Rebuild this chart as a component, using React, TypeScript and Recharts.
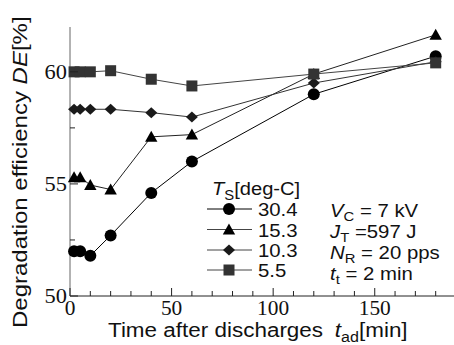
import React from "react";
import { LineChart, Line, XAxis, YAxis } from "recharts";

// time after discharges t_ad [min]
const T_AD = [2, 5, 10, 20, 40, 60, 120, 180];

// degradation efficiency DE [%] for each surface temperature T_S [deg-C]
const DE_30_4 = [52.0, 52.0, 51.8, 52.7, 54.6, 56.0, 59.0, 60.7];
const DE_15_3 = [55.3, 55.3, 54.95, 54.75, 57.1, 57.2, 59.9, 61.65];
const DE_10_3 = [58.33, 58.33, 58.33, 58.33, 58.18, 57.98, 59.5, 60.45];
const DE_5_5 = [60.0, 60.0, 60.0, 60.05, 59.67, 59.37, 59.9, 60.4];

const SERIES_LABELS = ["30.4", "15.3", "10.3", "5.5"];
const X_TICKS = [0, 10, 20, 30, 40, 50, 60, 70, 80, 90, 100, 110, 120, 130, 140, 150, 160, 170, 180];
const Y_TICKS = [50, 52.5, 55, 57.5, 60];

const W = 454;
const H = 345;
const INK = "#111";
const AXIS = "#222";
const SANS = "Liberation Sans, Arial, sans-serif";
const SERIF = "Liberation Serif, Times New Roman, Times, DejaVu Serif";

const data = T_AD.map((t, i) => ({
  t,
  s304: DE_30_4[i],
  s153: DE_15_3[i],
  s103: DE_10_3[i],
  s55: DE_5_5[i],
}));

type ShapeKind = "circle" | "triangle" | "diamond" | "square";

function Marker({ kind, cx, cy }: { kind: ShapeKind; cx: number; cy: number }) {
  if (kind === "circle") return <circle cx={cx} cy={cy} r={6} fill="#000" />;
  if (kind === "triangle")
    return <polygon points={`${cx},${cy - 6} ${cx + 6.2},${cy + 5} ${cx - 6.2},${cy + 5}`} fill="#000" />;
  if (kind === "diamond")
    return <polygon points={`${cx},${cy - 5.5} ${cx + 6},${cy} ${cx},${cy + 5.5} ${cx - 6},${cy}`} fill="#1a1a1a" />;
  return <rect x={cx - 5.5} y={cy - 5.5} width={11} height={11} fill="#333" />;
}

const dotFor = (kind: ShapeKind) => (p: any) =>
  <Marker key={`${kind}-${p.index}`} kind={kind} cx={p.cx} cy={p.cy} />;

const BottomTick = (p: any) => {
  const v = p.payload.value;
  const major = v % 50 === 0;
  return (
    <g>
      <line x1={p.x} x2={p.x} y1={p.y} y2={p.y - (major ? 8 : 5)} stroke={AXIS} />
      {major && (
        <text
          transform={`translate(${p.x},${p.y + 19}) scale(1.07,1)`}
          textAnchor="middle"
          fontFamily={SERIF}
          fontSize={20}
          fill={INK}
        >
          {v}
        </text>
      )}
    </g>
  );
};

const TopTick = (p: any) => {
  const major = p.payload.value % 50 === 0;
  return <line x1={p.x} x2={p.x} y1={p.y} y2={p.y + (major ? 8 : 5)} stroke={AXIS} />;
};

const LeftTick = (p: any) => {
  const v = p.payload.value;
  const major = v % 5 === 0;
  return (
    <g>
      <line x1={p.x} x2={p.x + (major ? 8 : 5)} y1={p.y} y2={p.y} stroke={AXIS} />
      {major && (
        <text
          transform={`translate(${p.x - 3},${p.y + 7}) scale(1.12,1)`}
          textAnchor="end"
          fontFamily={SERIF}
          fontSize={20}
          fill={INK}
        >
          {v}
        </text>
      )}
    </g>
  );
};

const RightTick = (p: any) => {
  const major = p.payload.value % 5 === 0;
  return <line x1={p.x} x2={p.x - (major ? 8 : 5)} y1={p.y} y2={p.y} stroke={AXIS} />;
};

const KINDS: ShapeKind[] = ["circle", "triangle", "diamond", "square"];

function Overlay() {
  const rowY = [209, 229.5, 250, 270];
  const notes = [
    { main: "V", sub: "C", rest: " = 7 kV" },
    { main: "J", sub: "T", rest: " =597 J" },
    { main: "N", sub: "R", rest: " = 20 pps" },
    { main: "t", sub: "t", rest: " = 2 min" },
  ];
  return (
    <svg width={W} height={H} style={{ position: "absolute", left: 0, top: 0 }}>
      {/* y axis title */}
      <text
        transform="translate(27,328) rotate(-90) scale(1.2,1)"
        fontFamily={SANS}
        fontSize={20}
        fill={INK}
      >
        Degradation efficiency <tspan fontStyle="italic">DE</tspan>[%]
      </text>
      {/* x axis title */}
      <text transform="translate(108,337) scale(1.07,1)" fontFamily={SANS} fontSize={21} fill={INK}>
        Time after discharges
        <tspan fontStyle="italic" dx={11}>t</tspan>
        <tspan fontSize={15} dy={5}>ad</tspan>
        <tspan dy={-5}>[min]</tspan>
      </text>
      {/* legend */}
      <text transform="translate(212,195) scale(1.06,1)" fontFamily={SANS} fontSize={19} fill={INK}>
        <tspan fontStyle="italic">T</tspan>
        <tspan fontSize={14} dy={5}>S</tspan>
        <tspan dy={-5}>[deg-C]</tspan>
      </text>
      {SERIES_LABELS.map((label, i) => (
        <g key={label}>
          <line x1={207} x2={252} y1={rowY[i]} y2={rowY[i]} stroke={i === 0 ? "#000" : "#444"} />
          <Marker kind={KINDS[i]} cx={229} cy={rowY[i]} />
          <text
            transform={`translate(258,${rowY[i] + 7}) scale(1.1,1)`}
            fontFamily={SANS}
            fontSize={18.5}
            fill={INK}
          >
            {label}
          </text>
        </g>
      ))}
      {notes.map((n, i) => (
        <text
          key={n.main + n.sub}
          transform={`translate(330,${217 + i * 21}) scale(1.1,1)`}
          fontFamily={SANS}
          fontSize={18.5}
          fill={INK}
        >
          <tspan fontStyle="italic">{n.main}</tspan>
          <tspan fontSize={13.5} dy={4}>{n.sub}</tspan>
          <tspan dy={-4}>{n.rest}</tspan>
        </text>
      ))}
    </svg>
  );
}

export default function App() {
  return (
    <div style={{ position: "absolute", left: 0, top: 0, width: W, height: H, background: "#fff", overflow: "hidden" }}>
      <LineChart width={W} height={H} data={data} margin={{ top: 27, right: -2, bottom: 0, left: 0 }}>
        <XAxis
          dataKey="t"
          type="number"
          domain={[0, 190]}
          ticks={X_TICKS}
          interval={0}
          height={49}
          tickSize={0}
          tickMargin={0}
          tickLine={false}
          tick={<BottomTick />}
          axisLine={{ stroke: AXIS }}
        />
        <XAxis
          xAxisId="top"
          orientation="top"
          dataKey="t"
          type="number"
          domain={[0, 190]}
          ticks={X_TICKS}
          interval={0}
          height={0}
          tickSize={0}
          tickMargin={0}
          tickLine={false}
          tick={<TopTick />}
          axisLine={{ stroke: AXIS }}
        />
        <YAxis
          type="number"
          domain={[50, 62]}
          ticks={Y_TICKS}
          interval={0}
          width={70}
          tickSize={0}
          tickMargin={0}
          tickLine={false}
          tick={<LeftTick />}
          axisLine={{ stroke: "#666" }}
        />
        <YAxis
          yAxisId="right"
          orientation="right"
          type="number"
          domain={[50, 62]}
          ticks={Y_TICKS}
          interval={0}
          width={0}
          tickSize={0}
          tickMargin={0}
          tickLine={false}
          tick={<RightTick />}
          axisLine={{ stroke: AXIS }}
        />
        <Line dataKey="s304" type="linear" stroke="#000" strokeWidth={1} dot={dotFor("circle")} activeDot={false} isAnimationActive={false} />
        <Line dataKey="s153" type="linear" stroke="#222" strokeWidth={1} dot={dotFor("triangle")} activeDot={false} isAnimationActive={false} />
        <Line dataKey="s103" type="linear" stroke="#333" strokeWidth={1} dot={dotFor("diamond")} activeDot={false} isAnimationActive={false} />
        <Line dataKey="s55" type="linear" stroke="#444" strokeWidth={1} dot={dotFor("square")} activeDot={false} isAnimationActive={false} />
      </LineChart>
      <Overlay />
    </div>
  );
}
